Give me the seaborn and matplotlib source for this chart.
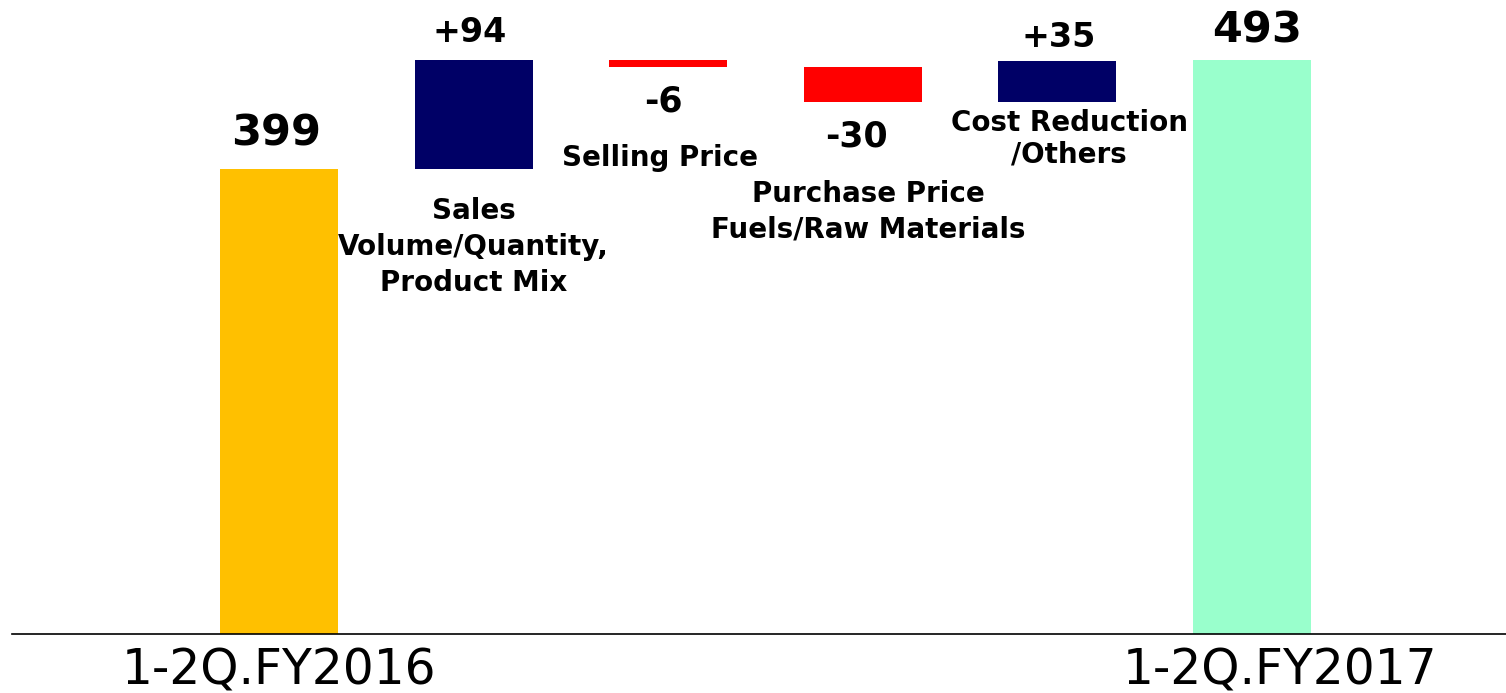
import numpy as np
import matplotlib
matplotlib.use("Agg")
import matplotlib.pyplot as plt
import matplotlib.transforms as mtransforms
import seaborn as sns

# Operating income bridge, 1-2Q FY2016 -> 1-2Q FY2017
categories = ["1-2Q.FY2016", "Sales Volume", "Selling Price",
              "Purchase Price", "Cost Reduction", "1-2Q.FY2017"]
changes = [399, 94, -6, -30, 35, 493]
value_labels = ["399", "+94", "-6", "-30", "+35", "493"]
step_names = ["Sales\nVolume/Quantity,\nProduct Mix", "Selling Price",
              "Purchase Price\nFuels/Raw Materials", "Cost Reduction\n/Others"]
tick_labels = ["1-2Q.FY2016", "1-2Q.FY2017"]

colors = ["#FFC000", "#000066", "#FF0000", "#FF0000", "#000066", "#99FFCC"]

# floating bar extents
bottoms, tops = [], []
level = changes[0]
bottoms.append(0); tops.append(changes[0])
for d in changes[1:-1]:
    lo, hi = sorted([level, level + d])
    bottoms.append(lo); tops.append(hi)
    level += d
bottoms.append(0); tops.append(changes[-1])

sns.set_theme(style="white")
plt.rcParams["font.family"] = ["DejaVu Sans"]

W, H = 1506, 693
fig = plt.figure(figsize=(W / 100, H / 100), dpi=100)
ax = fig.add_axes([12 / W, 59 / H, 1 - 12 / W, 634 / H])

sns.barplot(x=categories, y=tops, hue=categories, palette=colors,
            legend=False, width=0.606, saturation=1, ax=ax)
for patch, b, t, c in zip(ax.patches, bottoms, tops, colors):
    patch.set_y(b)
    patch.set_height(t - b)
    patch.set_facecolor(c)
    patch.set_edgecolor("none")

ax.set_xlim(-1.372, 6.305)
ax.set_ylim(0, 544.5)
for s in ["left", "right", "top"]:
    ax.spines[s].set_visible(False)
ax.spines["bottom"].set_color("black")
ax.spines["bottom"].set_linewidth(1.2)
ax.set_yticks([])
ax.set_xticks([0, len(categories) - 1], labels=tick_labels)
ax.tick_params(axis="x", length=0, pad=9, labelsize=35, colors="black")
ax.set_xlabel("")
# nudge the closing-period label to the right
lbl = ax.get_xticklabels()[1]
lbl.set_transform(lbl.get_transform() +
                  mtransforms.ScaledTranslation(0.28, 0, fig.dpi_scale_trans))

# value labels: above bar for totals/increases, below for decreases
sizes = [31, 24, 25, 25, 24, 31]
offsets = [(-3, 24), (-4, 18), (-5, -45), (-6, -45), (1, 14), (5, 17)]
for i, (v, txt) in enumerate(zip(changes, value_labels)):
    anchor = tops[i] if (v >= 0) else bottoms[i]
    ax.annotate(txt, xy=(i, anchor), xytext=offsets[i],
                textcoords="offset pixels", ha="center", va="baseline",
                fontsize=sizes[i], fontweight="bold", color="black")

# step descriptions
desc_pos = [(1.0, 375), (1.96, 421), (3.03, 390), (4.06, 451)]
spacing = [1.36, 1.3, 1.33, 1.18]
for (x, y), name, ls in zip(desc_pos, step_names, spacing):
    ax.text(x, y, name, ha="center", va="top", fontsize=20,
            fontweight="bold", color="black", linespacing=ls)

fig.savefig("out.png", dpi=100)
